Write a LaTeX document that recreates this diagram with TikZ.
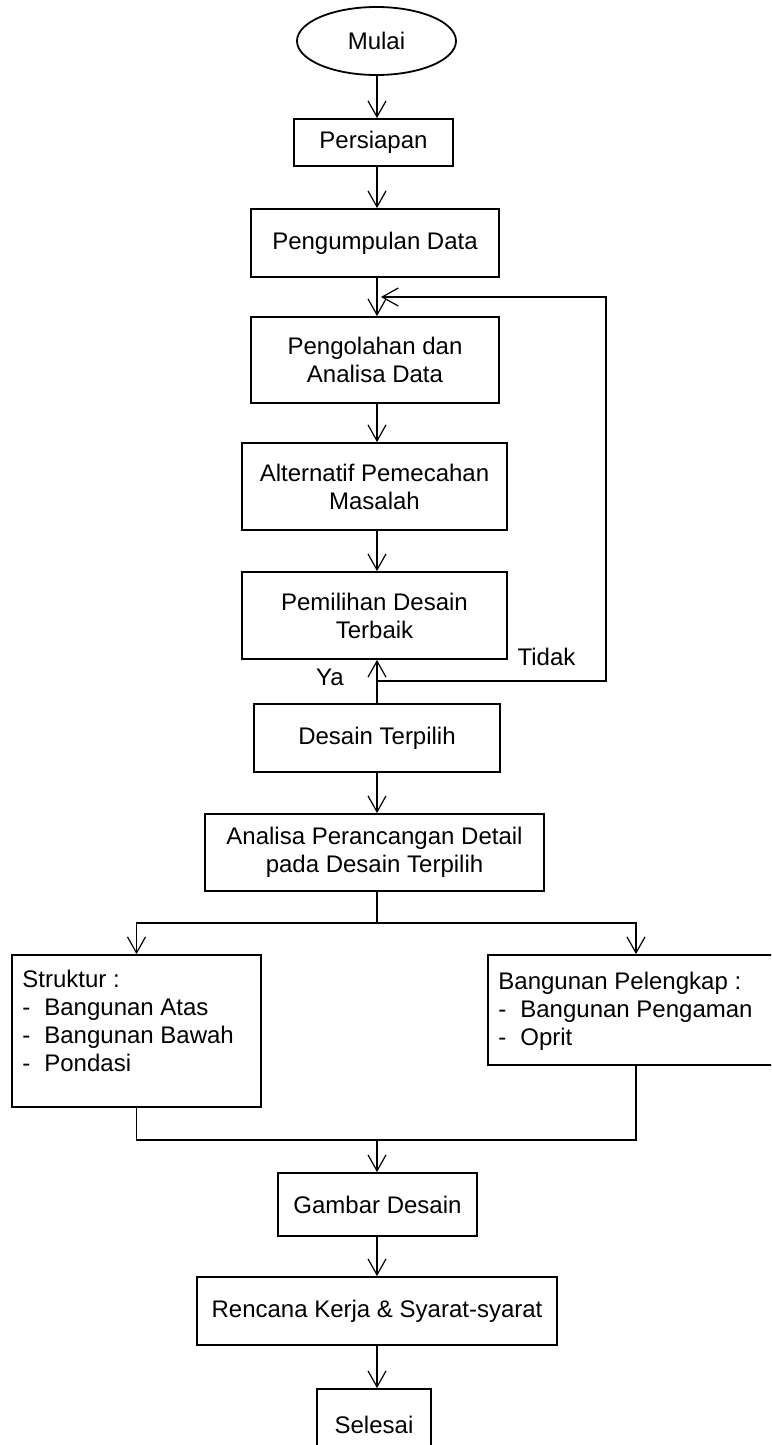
\documentclass[tikz,border=0pt]{standalone}
\usepackage{fontspec}
\setmainfont{Liberation Sans}
\usepackage{tikz}
\usetikzlibrary{arrows.meta,shapes.geometric}

\newcommand{\butir}[1]{\makebox[11pt][l]{-}#1}

\begin{document}
\begin{tikzpicture}[x=0.5pt, y=-0.5pt,
         font=\fontsize{12}{14}\selectfont,
         kotak/.style 2 args={draw, line width=0.9pt, minimum width=#1, minimum height=#2, align=center, inner sep=0pt},
         panah/.style={-{Straight Barb[length=8pt, width=9pt]}, line width=0.6pt},
         garis/.style={line width=0.6pt}]
         \useasboundingbox (0,0) rectangle (771,1445);
         \clip (0,0) rectangle (771,1445);
          \coordinate (pusat) at (377,0);
          \node[ellipse, draw, line width=0.9pt, minimum width=79.5pt, minimum height=34pt, inner sep=0pt] (mulai) at (376.5,41) {Mulai};
          \node[kotak={79.5pt}{23.5pt}] (persiapan) at (373.5,142.5) {Persiapan};
          \node[kotak={124pt}{34pt}] (pengumpulan) at (375,243) {Pengumpulan Data};
          \node[kotak={124pt}{43pt}] (pengolahan) at (375,360) {Pengolahan dan\\Analisa Data};
          \node[kotak={132.5pt}{43.5pt}] (alternatif) at (374.5,486.5) {Alternatif Pemecahan\\Masalah};
          \node[kotak={132.5pt}{43.5pt}] (pemilihan) at (374.5,615.5) {Pemilihan Desain\\Terbaik};
          \node[kotak={123pt}{34pt}] (terpilih) at (377,738) {Desain Terpilih};
          \node[kotak={169.5pt}{38.5pt}] (analisa) at (374.5,852.5) {Analisa Perancangan Detail\\pada Desain Terpilih};
          \node[kotak={124.5pt}{76pt}] (struktur) at (136.5,1031) {};
          \node[anchor=north west, inner sep=0pt, align=left] (strukturteks) at (22,970) {Struktur :\\\butir{Bangunan Atas}\\\butir{Bangunan Bawah}\\\butir{Pondasi}};
          \node[kotak={148pt}{55pt}] (pelengkap) at (636,1010) {};
          \node[anchor=north west, inner sep=0pt, align=left] (pelengkapteks) at (498,972) {Bangunan Pelengkap :\\\butir{Bangunan Pengaman}\\\butir{Oprit}};
          \node[kotak={99.5pt}{31.5pt}] (gambar) at (377.5,1204.5) {Gambar Desain};
          \node[kotak={180pt}{34pt}] (rencana) at (377,1311) {Rencana Kerja \& Syarat-syarat};
          \node[kotak={57pt}{36pt}] (selesai) at (374,1425) {Selesai};
          \node (ya) at (330,677) {Ya};
          \node (tidak) at (546.5,657) {Tidak};
          \coordinate (masuk) at (381,297);
          \coordinate (sudut) at (606,297);
          \coordinate (kembali) at (377,681);
          \coordinate (cabang) at (377,923);
          \coordinate (gabung) at (377,1140);
          \draw[panah] (mulai.south -| pusat) -- (persiapan.north -| pusat);
          \draw[panah] (persiapan.south -| pusat) -- (pengumpulan.north -| pusat);
          \draw[panah] (pengumpulan.south -| pusat) -- (pengolahan.north -| pusat);
          \draw[panah] (pengolahan.south -| pusat) -- (alternatif.north -| pusat);
          \draw[panah] (alternatif.south -| pusat) -- (pemilihan.north -| pusat);
          \draw[panah] (terpilih.north -| pusat) -- (pemilihan.south -| pusat);
          \draw[panah] (kembali) -| (sudut) -- (masuk);
          \draw[panah] (terpilih.south -| pusat) -- (analisa.north -| pusat);
          \draw[garis] (analisa.south -| pusat) -- (cabang);
          \draw[panah] (cabang) -| (struktur.north);
          \draw[panah] (cabang) -| (pelengkap.north);
          \draw[garis] (struktur.south) |- (gabung);
          \draw[garis] (pelengkap.south) |- (gabung);
          \draw[panah] (gabung) -- (gambar.north -| pusat);
          \draw[panah] (gambar.south -| pusat) -- (rencana.north -| pusat);
          \draw[panah] (rencana.south -| pusat) -- (selesai.north -| pusat);
      \end{tikzpicture}
\end{document}
